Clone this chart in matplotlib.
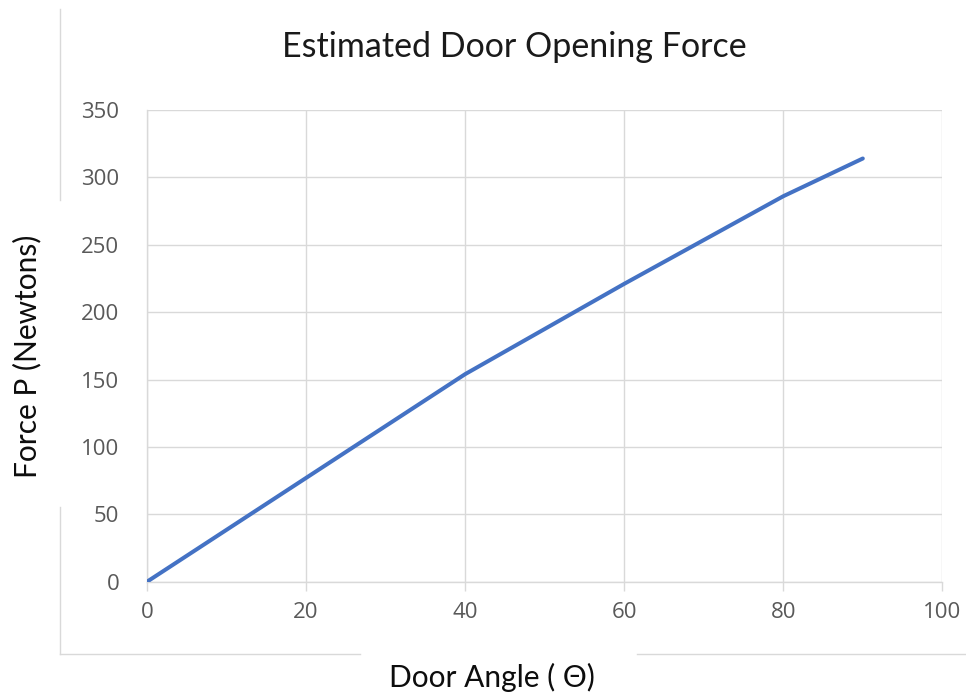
import matplotlib
matplotlib.use('Agg')
import matplotlib.pyplot as plt
from matplotlib.lines import Line2D

# door angle (degrees) vs estimated opening force (N)
angle = [0, 20, 40, 60, 80, 90]
force = [0, 77, 154, 221, 286, 314]

x_ticks = [0, 20, 40, 60, 80, 100]
y_ticks = [0, 50, 100, 150, 200, 250, 300, 350]

grid_color = '#d9d9d9'
tick_color = '#595959'

plt.rcParams['font.family'] = 'Open Sans'

fig = plt.figure(figsize=(9.66, 6.93), dpi=100)
ax = fig.add_axes([0.1522, 0.1606, 0.8233, 0.6807])

ax.plot(angle, force, color='#4472c4', linewidth=2.9, solid_capstyle='round', zorder=3)

ax.set_xlim(0, 100)
ax.set_ylim(0, 350)
ax.set_xticks(x_ticks)
ax.set_yticks(y_ticks)
ax.grid(True, color=grid_color, linewidth=1.0)
ax.set_axisbelow(True)

for side in ['left', 'bottom']:
    ax.spines[side].set_color(grid_color)
    ax.spines[side].set_linewidth(1.0)
ax.spines['top'].set_visible(False)
ax.spines['right'].set_visible(False)

ax.tick_params(axis='x', length=6.5, width=1.0, color=grid_color, pad=8,
               labelsize=16, labelcolor=tick_color)
ax.tick_params(axis='y', length=0, pad=20, labelsize=16, labelcolor=tick_color)

ax.set_xlabel('Door Angle ( \u0398)', fontsize=21.5, family='Lato', color='#0d0d0d')
ax.set_ylabel('Force P (Newtons)', fontsize=21.5, family='Lato', color='#0d0d0d')
ax.xaxis.set_label_coords(0.434, -0.204)
ax.yaxis.set_label_coords(-0.151, 0.478)
ax.xaxis.label.set_verticalalignment('center')
ax.yaxis.label.set_verticalalignment('center')

fig.text(514 / 966, 1 - 47 / 693, 'Estimated Door Opening Force', fontsize=24.5,
         family='Lato', color='#1a1a1a', ha='center', va='center')

# outer chart frame, broken where the axis titles sit
W, H = 966, 693
frame = [((60, 60), (9, 200)), ((60, 60), (507, 654)),
         ((60, 360), (654, 654)), ((637, 966), (654, 654))]
for xs, ys in frame:
    fig.add_artist(Line2D([x / W for x in xs], [1 - y / H for y in ys],
                          color=grid_color, linewidth=1.0))

fig.savefig('out.png', dpi=100)
